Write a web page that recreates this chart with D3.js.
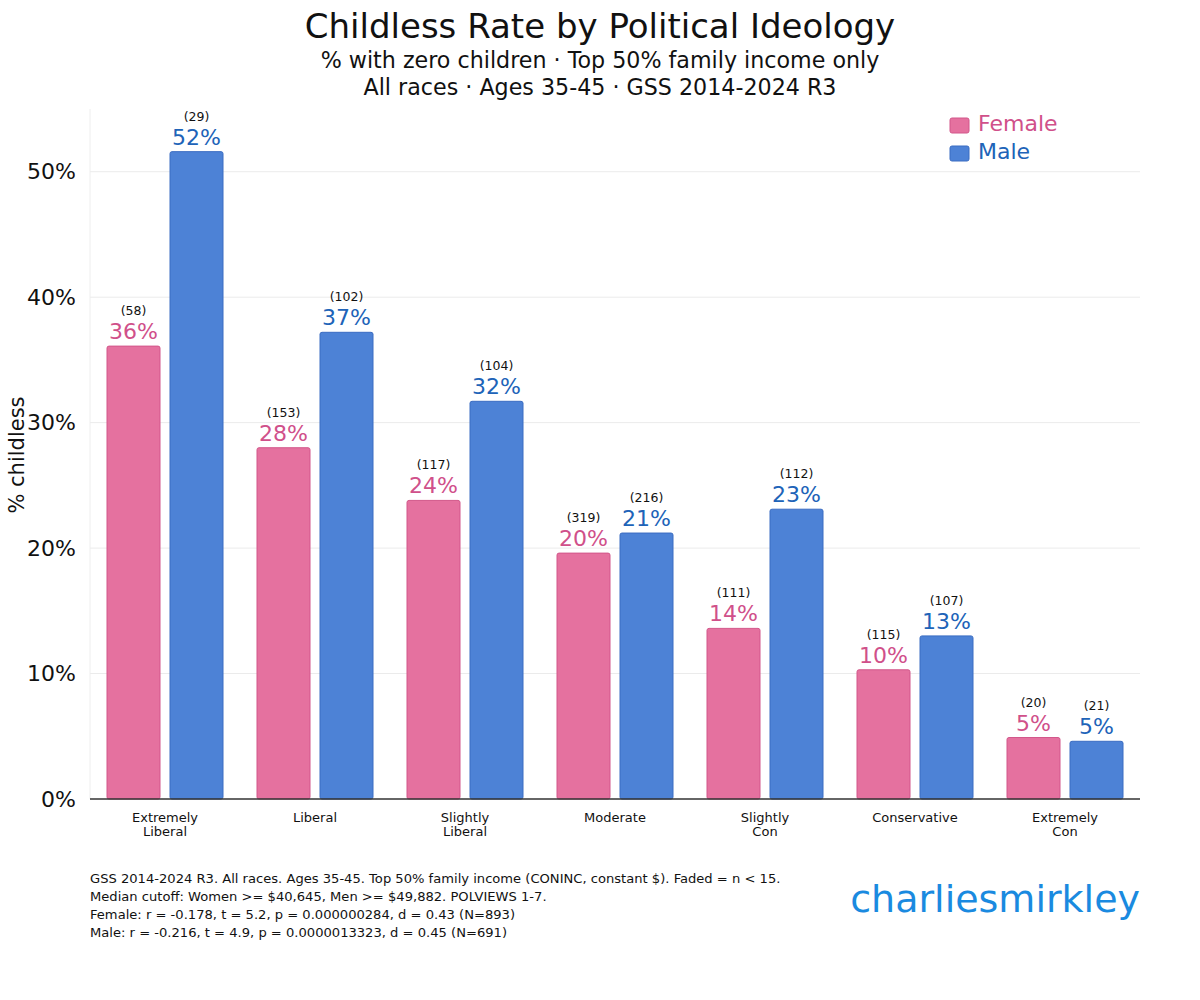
<!DOCTYPE html>
<html><head><meta charset="utf-8">
<script src="https://cdn.jsdelivr.net/npm/d3@7"></script>
<style>body{margin:0;background:#fff;} text{font-family:"DejaVu Sans",sans-serif;}</style>
</head><body>
<svg id="c" width="1200" height="1000"></svg>
<script>
const categories = [["Extremely","Liberal"],["Liberal"],["Slightly","Liberal"],["Moderate"],["Slightly","Con"],["Conservative"],["Extremely","Con"]];
const femaleValues = [36.1, 28.0, 23.8, 19.6, 13.6, 10.3, 4.9];
const maleValues = [51.6, 37.2, 31.7, 21.2, 23.1, 13.0, 4.6];
const femaleN = [58, 153, 117, 319, 111, 115, 20];
const maleN = [29, 102, 104, 216, 112, 107, 21];
const yTicks = [0, 10, 20, 30, 40, 50];
const footnotes = [
 "GSS 2014-2024 R3. All races. Ages 35-45. Top 50% family income (CONINC, constant $). Faded = n < 15.",
 "Median cutoff: Women >= $40,645, Men >= $49,882. POLVIEWS 1-7.",
 "Female: r = -0.178, t = 5.2, p = 0.000000284, d = 0.43 (N=893)",
 "Male: r = -0.216, t = 4.9, p = 0.0000013323, d = 0.45 (N=691)"
];

const svg = d3.select("#c");
const L = 90, R = 1140, T = 109, B = 799;
const x = d3.scaleBand().domain(d3.range(categories.length)).range([L, R]);
const y = d3.scaleLinear().domain([0, 55]).range([B, T]);
const bw = 53, off = 31.5;
const fCol = "#e5719f", fStroke = "#d2578a", fText = "#d0508a";
const mCol = "#4d82d6", mStroke = "#3a6cc2", mText = "#2063b8";

// title
svg.append("text").attr("x", 600).attr("y", 38).attr("text-anchor", "middle").attr("font-size", 34).attr("fill", "#111").text("Childless Rate by Political Ideology");
svg.append("text").attr("x", 600).attr("y", 68).attr("text-anchor", "middle").attr("font-size", 22.2).attr("fill", "#111").text("% with zero children · Top 50% family income only");
svg.append("text").attr("x", 600).attr("y", 95).attr("text-anchor", "middle").attr("font-size", 22.2).attr("fill", "#111").text("All races · Ages 35-45 · GSS 2014-2024 R3");

// grid
svg.append("g").selectAll("line").data(yTicks.filter(d => d > 0)).join("line")
  .attr("x1", L).attr("x2", R).attr("y1", d => y(d)).attr("y2", d => y(d))
  .attr("stroke", "#ebebeb").attr("stroke-width", 1);
svg.append("line").attr("x1", L).attr("x2", L).attr("y1", T).attr("y2", B).attr("stroke", "#eeeeee");

// y axis
const ya = svg.append("g").attr("transform", `translate(${L},0)`)
  .call(d3.axisLeft(y).tickValues(yTicks).tickFormat(d => d + "%").tickSize(0).tickPadding(14));
ya.select(".domain").remove();
ya.selectAll("text").attr("font-size", 22).attr("fill", "#111").attr("font-family", "DejaVu Sans");
svg.append("text").attr("transform", "translate(24,455) rotate(-90)").attr("text-anchor", "middle").attr("font-size", 21).attr("fill", "#111").text("% childless");

// bars
function drawBars(vals, ns, dx, fill, stroke, tc) {
  const g = svg.append("g");
  g.selectAll("rect").data(vals).join("rect")
    .attr("x", (d, i) => x(i) + x.bandwidth() / 2 + dx - bw / 2)
    .attr("y", d => y(d)).attr("width", bw).attr("height", d => y(0) - y(d))
    .attr("rx", 2).attr("fill", fill).attr("stroke", stroke).attr("stroke-width", 1);
  g.selectAll("text.p").data(vals).join("text").attr("class", "p")
    .attr("x", (d, i) => x(i) + x.bandwidth() / 2 + dx).attr("y", d => y(d) - 7)
    .attr("text-anchor", "middle").attr("font-size", 22).attr("fill", tc)
    .text(d => Math.round(d) + "%");
  g.selectAll("text.n").data(ns).join("text").attr("class", "n")
    .attr("x", (d, i) => x(i) + x.bandwidth() / 2 + dx).attr("y", (d, i) => y(vals[i]) - 31)
    .attr("text-anchor", "middle").attr("font-size", 12.5).attr("fill", "#111")
    .text(d => "(" + d + ")");
}
drawBars(femaleValues, femaleN, -off, fCol, fStroke, fText);
drawBars(maleValues, maleN, off, mCol, mStroke, mText);

// x axis
svg.append("line").attr("x1", L).attr("x2", R).attr("y1", B).attr("y2", B).attr("stroke", "#333").attr("stroke-width", 1.5);
const xl = svg.append("g");
categories.forEach((c, i) => {
  const t = xl.append("text").attr("x", x(i) + x.bandwidth() / 2).attr("y", 822).attr("text-anchor", "middle").attr("font-size", 13).attr("fill", "#111");
  c.forEach((s, j) => t.append("tspan").attr("x", x(i) + x.bandwidth() / 2).attr("dy", j === 0 ? 0 : 13.5).text(s));
});

// legend
const leg = [["Female", fCol, fStroke, fText], ["Male", mCol, mStroke, mText]];
leg.forEach((l, i) => {
  svg.append("rect").attr("x", 950).attr("y", 118 + i * 28).attr("width", 19).attr("height", 15).attr("rx", 2).attr("fill", l[1]).attr("stroke", l[2]);
  svg.append("text").attr("x", 978).attr("y", 131 + i * 28).attr("font-size", 22).attr("fill", l[3]).text(l[0]);
});

// footnotes
footnotes.forEach((f, i) => {
  svg.append("text").attr("x", 90).attr("y", 883 + i * 18).attr("font-size", 13.1).attr("fill", "#111").text(f);
});
svg.append("text").attr("x", 1140).attr("y", 912).attr("text-anchor", "end").attr("font-size", 38).attr("fill", "#1a8ae0").text("charliesmirkley");
</script>
</body></html>
